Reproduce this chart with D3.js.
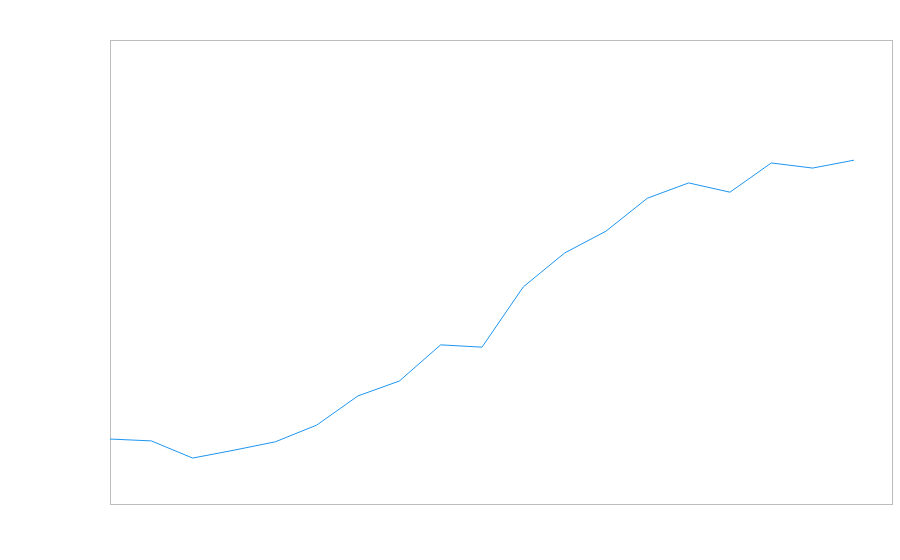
<!DOCTYPE html>
<html><head><meta charset="utf-8">
<script src="https://cdn.jsdelivr.net/npm/d3@7"></script>
<style>body{margin:0;background:#fff;}</style>
</head><body>
<svg id="c" width="900" height="560"></svg>
<script>
const periods = d3.range(19);
const values = [14.0, 13.6, 9.9, 11.6, 13.4, 17.0, 23.3, 26.5, 34.3, 33.8, 46.8, 54.1, 58.8, 65.9, 69.2, 67.2, 73.5, 72.4, 74.1];

const svg = d3.select("#c");
const m = {l:110, r:8, t:40, b:56};
const W = 900, H = 560;
const x = d3.scaleLinear().domain([0, 18.92]).range([m.l, W - m.r]);
const y = d3.scaleLinear().domain([0, 100]).range([H - m.b, m.t]);

svg.append("rect").attr("x", m.l + 0.5).attr("y", m.t + 0.5)
  .attr("width", W - m.r - m.l).attr("height", H - m.b - m.t)
  .attr("fill", "none").attr("stroke", "#bdbdbd").attr("stroke-width", 1);

svg.append("path").datum(values)
  .attr("fill", "none").attr("stroke", "#1e96f0").attr("stroke-width", 1)
  .attr("d", d3.line().x((d, i) => x(periods[i])).y(d => y(d)));
</script>
</body></html>
